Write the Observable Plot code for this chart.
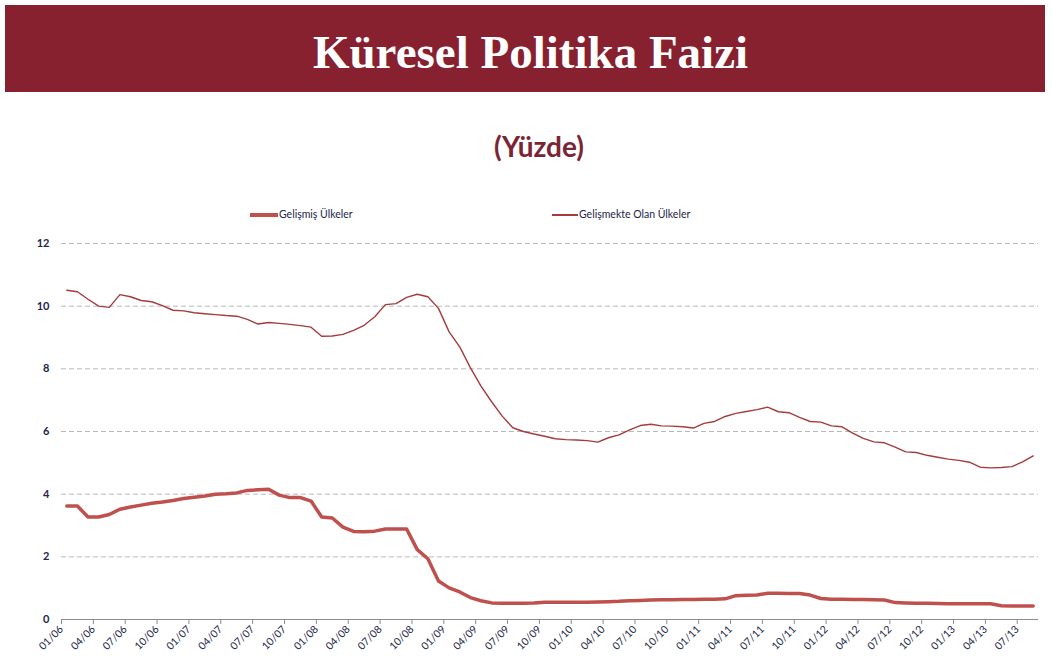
<!DOCTYPE html>
<html>
<head>
<meta charset="utf-8">
<script src="https://cdn.jsdelivr.net/npm/d3@7"></script>
<script src="https://cdn.jsdelivr.net/npm/@observablehq/plot@0.6"></script>
<style>
  html, body { margin: 0; padding: 0; background: #fff; }
  #page { position: relative; width: 1053px; height: 662px; overflow: hidden; background: #fff; }
  .abs { position: absolute; }
  .band { left: 5px; top: 5px; width: 1040px; height: 87px; background: #87212f; }
  .title { left: 0; top: 29px; width: 1061px; text-align: center; font-family: "Liberation Serif", serif; font-weight: bold; font-size: 47px; line-height: 47px; color: #fff; white-space: nowrap; }
  .subtitle { left: 0; top: 132px; width: 1078px; text-align: center; font-family: Lato, sans-serif; font-weight: bold; font-size: 28px; line-height: 28px; color: #7a2536; white-space: nowrap; }
  .legtxt { top: 208.7px; font-family: Lato, sans-serif; font-size: 10.5px; line-height: 10.5px; color: #22264a; white-space: nowrap; }
  #chart { left: 0; top: 230px; }
</style>
</head>
<body>
<div id="page">
  <div class="abs band"></div>
  <div class="abs title">Küresel Politika Faizi</div>
  <div class="abs subtitle">(Yüzde)</div>
  <div class="abs" style="left:250px;top:213.3px;width:28px;height:3.5px;background:#c0504d"></div>
  <div class="abs legtxt" style="left:279px">Gelişmiş Ülkeler</div>
  <div class="abs" style="left:552px;top:214.3px;width:26px;height:1.5px;background:#a53c3c"></div>
  <div class="abs legtxt" style="left:579px">Gelişmekte Olan Ülkeler</div>
  <div class="abs" id="chart"></div>
</div>
<script>
// Categories: monthly, 01/06 .. 08/13
const months = [];
for (let y = 6; y <= 13; y++) {
  for (let m = 1; m <= 12; m++) {
    if (months.length < 92) months.push(String(m).padStart(2, "0") + "/" + String(y).padStart(2, "0"));
  }
}

const seriesNames = ["Gelişmiş Ülkeler", "Gelişmekte Olan Ülkeler"];

// Gelişmiş Ülkeler (developed), %
const gelismis = [
  3.62, 3.62, 3.27, 3.27, 3.35, 3.52, 3.59, 3.65, 3.71, 3.75, 3.80, 3.86,
  3.90, 3.94, 4.00, 4.01, 4.04, 4.12, 4.14, 4.16, 3.97, 3.89, 3.89, 3.78,
  3.27, 3.24, 2.95, 2.81, 2.80, 2.82, 2.89, 2.89, 2.89, 2.23, 1.94, 1.23,
  1.01, 0.88, 0.70, 0.60, 0.53, 0.52, 0.52, 0.52, 0.53, 0.55, 0.55, 0.55,
  0.55, 0.55, 0.56, 0.57, 0.58, 0.60, 0.61, 0.62, 0.63, 0.63, 0.64, 0.64,
  0.65, 0.65, 0.66, 0.76, 0.77, 0.78, 0.84, 0.84, 0.83, 0.83, 0.78, 0.67,
  0.65, 0.65, 0.64, 0.64, 0.63, 0.62, 0.54, 0.53, 0.52, 0.52, 0.51, 0.50,
  0.50, 0.50, 0.50, 0.50, 0.44, 0.43, 0.43, 0.43
];

// Gelişmekte Olan Ülkeler (developing), %
const gelismekte = [
  10.51, 10.46, 10.22, 10.00, 9.96, 10.37, 10.30, 10.18, 10.14, 10.02, 9.87, 9.85,
  9.79, 9.76, 9.73, 9.70, 9.68, 9.58, 9.43, 9.48, 9.45, 9.42, 9.38, 9.33,
  9.04, 9.05, 9.10, 9.23, 9.39, 9.66, 10.05, 10.08, 10.28, 10.38, 10.30, 9.93,
  9.18, 8.70, 8.04, 7.45, 6.95, 6.49, 6.12, 6.00, 5.92, 5.85, 5.77, 5.74,
  5.73, 5.71, 5.66, 5.80, 5.89, 6.05, 6.19, 6.23, 6.18, 6.17, 6.15, 6.11,
  6.26, 6.32, 6.48, 6.58, 6.64, 6.70, 6.78, 6.63, 6.60, 6.45, 6.32, 6.30,
  6.18, 6.15, 5.95, 5.78, 5.67, 5.64, 5.50, 5.35, 5.33, 5.24, 5.18, 5.12,
  5.08, 5.02, 4.86, 4.84, 4.85, 4.88, 5.03, 5.22
];

const yTicks = [0, 2, 4, 6, 8, 10, 12];
const xTickIdx = [];
for (let i = 0; i < months.length; i += 3) xTickIdx.push(i);

const rows = months.map((m, i) => ({ x: i + 0.5, month: m, adv: gelismis[i], dev: gelismekte[i] }));

const chart = Plot.plot({
  width: 1053,
  height: 432,
  marginTop: 13,
  marginBottom: 43,
  marginLeft: 61,
  marginRight: 15,
  style: { fontFamily: "Lato, sans-serif", fontSize: "10px", color: "#22264a", background: "transparent" },
  x: { type: "linear", domain: [0, months.length] },
  y: { domain: [0, 12] },
  marks: [
    Plot.ruleY(yTicks.filter(v => v > 0), { stroke: "#b8b8b8", strokeWidth: 1, strokeDasharray: "5,3" }),
    Plot.ruleY([0], { stroke: "#8c8c8c", strokeWidth: 1.2 }),
    Plot.axisX({ ticks: xTickIdx, tickFormat: i => months[i], tickRotate: -45, tickSize: 5, tickPadding: 3, stroke: "#8c8c8c", fontSize: 10.5, label: null }),
    Plot.axisY({ ticks: yTicks, tickSize: 0, tickPadding: 12, fontWeight: "bold", fontSize: 11, label: null }),
    Plot.line(rows, { x: "x", y: "dev", stroke: "#a53c3c", strokeWidth: 1.4 }),
    Plot.line(rows, { x: "x", y: "adv", stroke: "#c0504d", strokeWidth: 3.5 })
  ]
});
document.getElementById("chart").appendChild(chart);
</script>
</body>
</html>
